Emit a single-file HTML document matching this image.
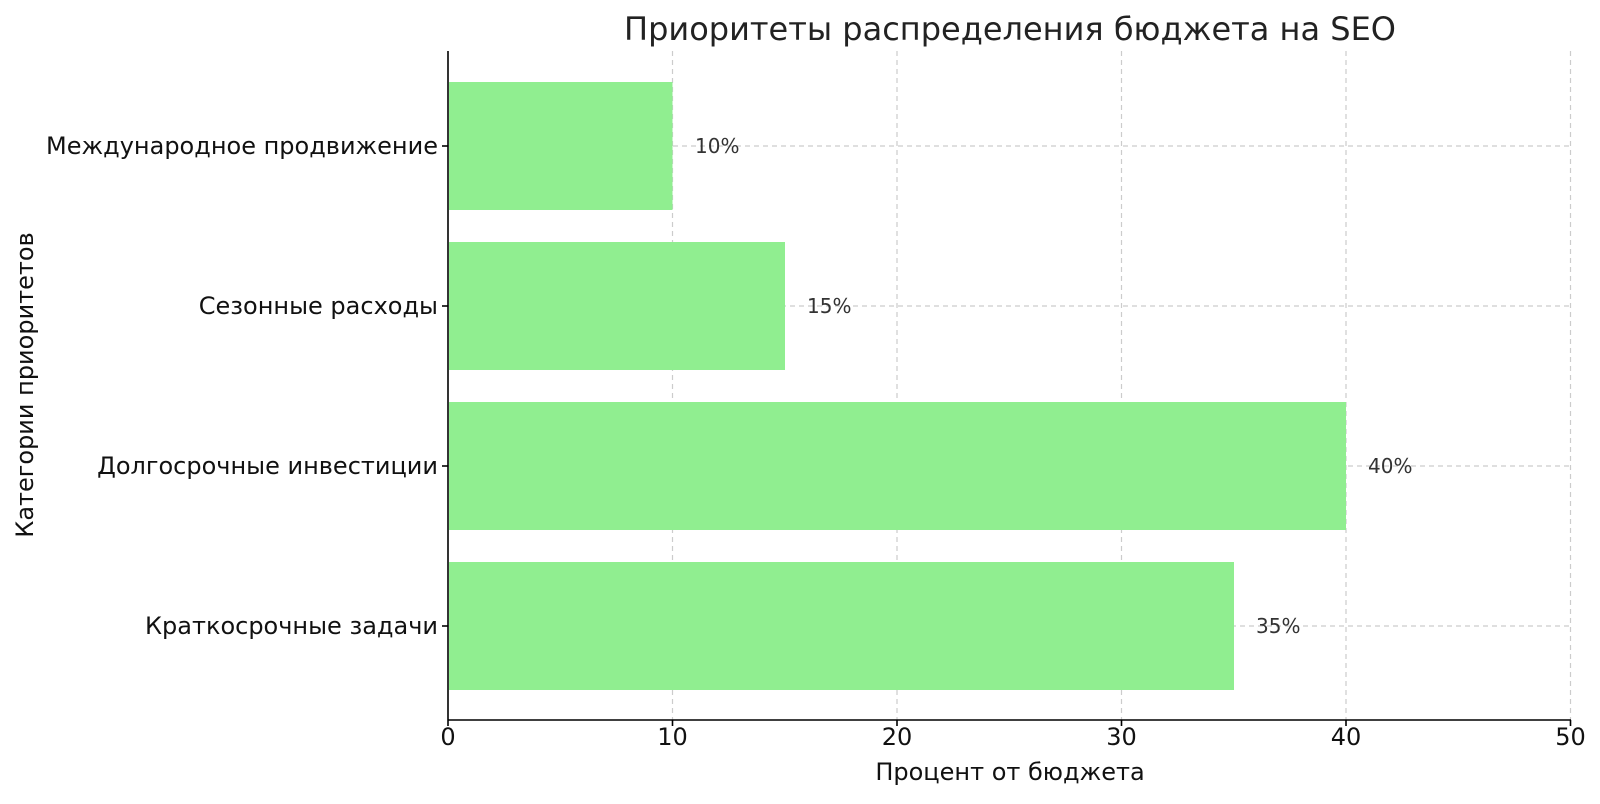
<!DOCTYPE html>
<html><head><meta charset="utf-8"><style>body{margin:0;background:#fff}</style></head><body>
<svg width="1600" height="799" xmlns="http://www.w3.org/2000/svg" font-family="DejaVu Sans, Liberation Sans, sans-serif">
<rect width="1600" height="799" fill="#fff"/>
<g stroke="#cccccc" stroke-width="1.2" stroke-dasharray="5,4">
<line x1="672.5" y1="51" x2="672.5" y2="720"/>
<line x1="897" y1="51" x2="897" y2="720"/>
<line x1="1121.5" y1="51" x2="1121.5" y2="720"/>
<line x1="1346" y1="51" x2="1346" y2="720"/>
<line x1="1570.5" y1="51" x2="1570.5" y2="720"/>
<line x1="448" y1="146" x2="1571" y2="146"/>
<line x1="448" y1="306" x2="1571" y2="306"/>
<line x1="448" y1="466" x2="1571" y2="466"/>
<line x1="448" y1="626" x2="1571" y2="626"/>
</g>
<g fill="#90ee90">
<rect x="449" y="82" width="223.5" height="128"/>
<rect x="449" y="242" width="336" height="128"/>
<rect x="449" y="402" width="897" height="128"/>
<rect x="449" y="562" width="785" height="128"/>
</g>
<g stroke="#000" stroke-width="1.6">
<line x1="448" y1="51" x2="448" y2="720"/>
<line x1="448" y1="720" x2="1571" y2="720"/>
<line x1="448" y1="720" x2="448" y2="726"/><line x1="672.5" y1="720" x2="672.5" y2="726"/><line x1="897" y1="720" x2="897" y2="726"/><line x1="1121.5" y1="720" x2="1121.5" y2="726"/><line x1="1346" y1="720" x2="1346" y2="726"/><line x1="1570.5" y1="720" x2="1570.5" y2="726"/>
<line x1="442" y1="146" x2="448" y2="146"/><line x1="442" y1="306" x2="448" y2="306"/><line x1="442" y1="466" x2="448" y2="466"/><line x1="442" y1="626" x2="448" y2="626"/>
</g>
<g font-size="24" fill="#111" text-anchor="middle">
<text x="448" y="745">0</text><text x="672.5" y="745">10</text><text x="897" y="745">20</text><text x="1121.5" y="745">30</text><text x="1346" y="745">40</text><text x="1570.5" y="745">50</text>
</g>
<g font-size="24" fill="#111" text-anchor="end">
<text x="438" y="154">Международное продвижение</text>
<text x="438" y="314">Сезонные расходы</text>
<text x="438" y="474">Долгосрочные инвестиции</text>
<text x="438" y="634">Краткосрочные задачи</text>
</g>
<g font-size="20" fill="#333">
<text x="695" y="153">10%</text>
<text x="807" y="313">15%</text>
<text x="1368" y="473">40%</text>
<text x="1256" y="633">35%</text>
</g>
<text x="1010" y="780" font-size="24" fill="#111" text-anchor="middle">Процент от бюджета</text>
<text transform="translate(33,385) rotate(-90)" font-size="24" fill="#111" text-anchor="middle">Категории приоритетов</text>
<text x="1010" y="40" font-size="32" fill="#222" text-anchor="middle">Приоритеты распределения бюджета на SEO</text>
</svg>
</body></html>
